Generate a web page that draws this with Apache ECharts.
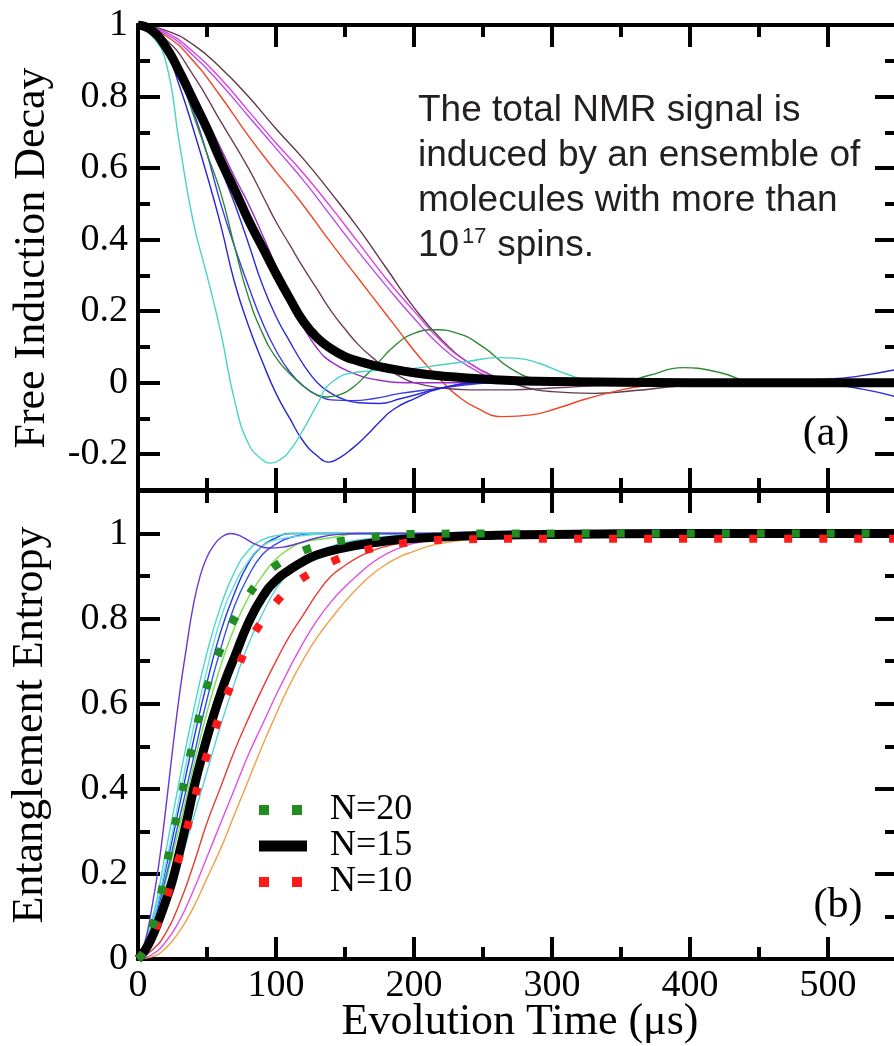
<!DOCTYPE html>
<html>
<head>
<meta charset="utf-8">
<script src="https://cdn.jsdelivr.net/npm/echarts@6/dist/echarts.min.js"></script>
<style>
html,body{margin:0;padding:0;background:#fff;}
#main{width:894px;height:1046px;}
</style>
</head>
<body>
<div id="main"></div>
<script>
// (a) free induction decay, [time us, signal]
var fidTurquoise = [[0,1],[10,0.97],[20,0.9],[30,0.67],[40,0.45],[50,0.3],[60,0.14],[70,-0.05],[80,-0.17],[90,-0.215],[96,-0.225],[103,-0.215],[110,-0.19],[120,-0.13],[130,-0.06],[140,0.0],[160,0.03],[180,0.035],[200,0.04],[220,0.05],[240,0.06],[260,0.07],[275,0.068],[290,0.055],[310,0.025],[330,0.005],[400,0],[550,0]];
var fidBlueDeep = [[0,1],[10,0.98],[20,0.93],[30,0.83],[40,0.71],[50,0.58],[60,0.44],[70,0.28],[80,0.16],[90,0.06],[100,-0.03],[110,-0.1],[120,-0.165],[130,-0.205],[138,-0.222],[146,-0.21],[155,-0.185],[165,-0.15],[175,-0.11],[185,-0.075],[200,-0.045],[220,-0.015],[250,0],[300,0],[400,0],[450,0.005],[500,0.01],[520,0.017],[550,0.037]];
var fidGreen = [[0,1],[10,0.98],[20,0.94],[30,0.86],[40,0.75],[50,0.64],[60,0.53],[70,0.38],[80,0.24],[90,0.14],[100,0.07],[110,0.025],[120,-0.01],[130,-0.035],[137,-0.04],[145,-0.035],[155,-0.015],[165,0.02],[175,0.06],[185,0.1],[200,0.138],[215,0.148],[230,0.14],[250,0.1],[270,0.04],[290,0.008],[320,-0.005],[350,0],[370,0.02],[395,0.042],[420,0.03],[450,0],[550,0]];
var fidBlue2 = [[0,1],[10,0.985],[20,0.945],[30,0.875],[40,0.79],[50,0.7],[60,0.6],[70,0.5],[80,0.39],[90,0.275],[100,0.185],[110,0.115],[120,0.05],[130,0.0],[140,-0.03],[150,-0.048],[160,-0.056],[175,-0.058],[190,-0.045],[200,-0.035],[220,-0.015],[250,0],[300,0],[450,0],[500,-0.005],[525,-0.018],[550,-0.04]];
var fidBlue3 = [[0,1],[10,0.98],[20,0.935],[30,0.86],[40,0.76],[50,0.64],[60,0.5],[70,0.38],[80,0.27],[90,0.17],[100,0.09],[110,0.03],[120,-0.01],[130,-0.035],[140,-0.048],[155,-0.05],[170,-0.045],[190,-0.03],[214,-0.018],[240,-0.005],[260,0],[550,0]];
var fidBlack = [[0,1],[10,0.985],[20,0.94],[30,0.87],[40,0.79],[50,0.71],[60,0.62],[70,0.54],[80,0.455],[90,0.38],[100,0.305],[110,0.235],[120,0.17],[130,0.125],[140,0.095],[150,0.073],[160,0.06],[170,0.049],[180,0.041],[200,0.028],[220,0.019],[250,0.01],[300,0.003],[400,0],[550,0]];
var fidPurple = [[0,1],[10,0.99],[20,0.95],[30,0.89],[40,0.815],[50,0.735],[60,0.655],[70,0.575],[80,0.5],[90,0.415],[100,0.325],[110,0.235],[120,0.155],[130,0.095],[140,0.058],[155,0.028],[170,0.01],[200,0],[250,0],[550,0]];
var fidBrown2 = [[0,1],[20,0.96],[40,0.86],[60,0.73],[80,0.6],[92,0.51],[100,0.45],[110,0.385],[120,0.32],[130,0.26],[140,0.2],[150,0.15],[160,0.105],[170,0.07],[180,0.04],[190,0.017],[200,0],[220,-0.015],[240,-0.02],[270,-0.02],[300,-0.015],[350,-0.005],[400,0],[550,0]];
var fidRed = [[0,1],[20,0.97],[40,0.9],[60,0.8],[80,0.69],[100,0.59],[117,0.51],[140,0.39],[160,0.29],[180,0.19],[190,0.14],[200,0.09],[210,0.045],[220,0.005],[230,-0.032],[245,-0.07],[265,-0.095],[285,-0.09],[305,-0.07],[325,-0.045],[345,-0.025],[365,-0.01],[400,0],[550,0]];
var fidViolet = [[0,1],[20,0.975],[40,0.915],[60,0.835],[80,0.745],[100,0.655],[120,0.565],[140,0.465],[160,0.365],[180,0.27],[200,0.18],[220,0.1],[240,0.045],[260,0.01],[280,0],[550,0]];
var fidMagenta = [[0,1],[20,0.98],[40,0.925],[60,0.85],[80,0.76],[100,0.67],[120,0.585],[140,0.49],[160,0.39],[180,0.29],[200,0.2],[220,0.115],[240,0.055],[260,0.015],[280,0],[300,-0.005],[350,0],[550,0]];
var fidBrown = [[0,1],[20,0.985],[40,0.945],[60,0.88],[80,0.8],[100,0.71],[120,0.625],[140,0.53],[160,0.43],[180,0.32],[200,0.21],[220,0.12],[240,0.055],[260,0.015],[280,-0.012],[300,-0.025],[330,-0.03],[360,-0.022],[390,-0.01],[430,0],[550,0]];

// (b) entanglement entropy, [time us, entropy]
var entIndigo = [[0,0],[5,0.04],[10,0.12],[15,0.22],[20,0.35],[25,0.49],[30,0.62],[35,0.73],[40,0.83],[45,0.9],[50,0.945],[55,0.972],[60,0.99],[67,1.0],[75,0.993],[85,0.975],[95,0.966],[105,0.968],[115,0.976],[130,0.99],[145,0.998],[160,1],[550,1]];
var entTurqA = [[0,0],[10,0.09],[20,0.25],[30,0.42],[40,0.58],[50,0.72],[60,0.83],[70,0.91],[80,0.96],[90,0.985],[100,0.995],[120,1],[550,1]];
var entTurqB = [[0,0],[10,0.08],[20,0.22],[30,0.38],[40,0.54],[50,0.68],[60,0.8],[70,0.88],[80,0.935],[90,0.97],[100,0.985],[120,0.995],[140,1],[550,1]];
var entBlueA = [[0,0],[10,0.08],[20,0.21],[30,0.36],[40,0.51],[50,0.65],[60,0.77],[70,0.86],[80,0.93],[90,0.97],[100,0.99],[110,1],[550,1]];
var entBlueB = [[0,0],[10,0.07],[20,0.19],[30,0.33],[40,0.47],[50,0.61],[60,0.73],[70,0.83],[80,0.9],[90,0.95],[100,0.975],[110,0.99],[130,1],[550,1]];
var entLime = [[0,0],[10,0.06],[20,0.18],[30,0.31],[40,0.45],[50,0.58],[60,0.69],[70,0.78],[80,0.85],[90,0.9],[100,0.94],[110,0.965],[120,0.98],[140,0.99],[160,1],[550,1]];
var entCyan = [[0,0],[10,0.04],[20,0.12],[30,0.22],[40,0.33],[50,0.44],[60,0.55],[70,0.65],[80,0.74],[90,0.81],[100,0.87],[110,0.91],[120,0.94],[140,0.97],[160,0.985],[180,0.993],[200,0.997],[550,1]];
var entRed = [[0,0],[10,0.02],[20,0.06],[30,0.13],[40,0.22],[50,0.32],[60,0.405],[70,0.49],[80,0.565],[90,0.635],[100,0.7],[110,0.76],[120,0.81],[130,0.86],[140,0.9],[150,0.925],[160,0.945],[170,0.96],[180,0.97],[200,0.984],[220,0.992],[250,0.997],[300,1],[550,1]];
var entMagenta = [[0,0],[10,0.01],[20,0.04],[30,0.09],[40,0.16],[50,0.24],[60,0.32],[70,0.4],[80,0.48],[90,0.55],[100,0.62],[110,0.685],[120,0.745],[130,0.797],[140,0.84],[150,0.875],[160,0.905],[170,0.932],[180,0.952],[190,0.967],[200,0.977],[220,0.988],[250,0.995],[300,0.999],[550,1]];
var entOrange = [[0,0],[10,0.005],[20,0.025],[30,0.065],[40,0.12],[50,0.19],[60,0.26],[70,0.34],[80,0.42],[90,0.5],[100,0.575],[110,0.645],[120,0.705],[130,0.757],[140,0.8],[150,0.84],[160,0.875],[170,0.905],[180,0.928],[190,0.946],[200,0.958],[215,0.974],[240,0.986],[270,0.994],[300,0.998],[550,1]];
var entN20 = [[0,0],[5,0.02],[10,0.07],[15,0.13],[20,0.21],[25,0.29],[30,0.36],[35,0.44],[40,0.51],[45,0.58],[50,0.64],[60,0.73],[70,0.8],[80,0.855],[90,0.895],[100,0.925],[120,0.96],[140,0.978],[160,0.988],[180,0.995],[200,0.999],[250,1],[550,1]];
var entN15 = [[0,0],[5,0.02],[10,0.05],[15,0.09],[20,0.135],[25,0.185],[30,0.25],[35,0.32],[40,0.395],[45,0.46],[50,0.52],[55,0.575],[60,0.625],[65,0.67],[70,0.71],[80,0.79],[90,0.85],[100,0.89],[110,0.915],[120,0.935],[130,0.95],[150,0.967],[170,0.978],[190,0.986],[220,0.992],[260,0.996],[300,0.998],[400,1],[550,1]];
var entN10 = [[0,0],[5,0.02],[10,0.05],[15,0.09],[20,0.135],[25,0.19],[30,0.24],[35,0.3],[40,0.365],[45,0.425],[50,0.48],[60,0.58],[70,0.665],[80,0.74],[90,0.795],[100,0.838],[110,0.872],[125,0.907],[145,0.94],[170,0.965],[200,0.98],[230,0.986],[300,0.988],[550,0.988]];

// ticks
var xMajor = [0, 100, 200, 300, 400, 500];
var xMinor = [50, 150, 250, 350, 450];
var fidMajor = [-0.2, 0, 0.2, 0.4, 0.6, 0.8, 1];
var fidMinor = [-0.1, 0.1, 0.3, 0.5, 0.7, 0.9];
var entMajor = [0, 0.2, 0.4, 0.6, 0.8, 1];
var entMinor = [0.1, 0.3, 0.5, 0.7, 0.9];

var SERIF = 'Liberation Serif';
function fmt(v) { return String(Math.round(v * 10) / 10); }

function axis(grid, pos, min, max, vals, len, labels) {
  return {
    type: 'value', gridIndex: grid, position: pos, min: min, max: max,
    splitLine: {show: false},
    axisLine: {show: true, onZero: false, lineStyle: {color: '#000', width: 4}},
    axisTick: {show: true, inside: true, length: len, customValues: vals, lineStyle: {color: '#000', width: 4}},
    axisLabel: labels ? {show: true, customValues: vals, margin: (pos === 'bottom' ? 8 : 10), color: '#000',
      fontFamily: SERIF, fontSize: 38, formatter: fmt} : {show: false}
  };
}

var xAxes = [
  axis(0, 'bottom', 0, 550, xMajor, 22, false),
  axis(0, 'bottom', 0, 550, xMinor, 12, false),
  axis(0, 'top', 0, 550, xMajor, 22, false),
  axis(0, 'top', 0, 550, xMinor, 12, false),
  axis(1, 'bottom', 0, 550, xMajor, 22, true),
  axis(1, 'bottom', 0, 550, xMinor, 12, false),
  axis(1, 'top', 0, 550, xMajor, 22, false),
  axis(1, 'top', 0, 550, xMinor, 12, false)
];
var yAxes = [
  axis(0, 'left', -0.3, 1, fidMajor, 22, true),
  axis(0, 'left', -0.3, 1, fidMinor, 12, false),
  axis(0, 'right', -0.3, 1, fidMajor, 22, false),
  axis(0, 'right', -0.3, 1, fidMinor, 12, false),
  axis(1, 'left', 0, 1.1, entMajor, 22, true),
  axis(1, 'left', 0, 1.1, entMinor, 12, false),
  axis(1, 'right', 0, 1.1, entMajor, 22, false),
  axis(1, 'right', 0, 1.1, entMinor, 12, false)
];

function thin(grid, data, color) {
  return {type: 'line', data: data, xAxisIndex: grid * 4, yAxisIndex: grid * 4,
    symbol: 'none', smooth: 0.5, silent: true, z: 2,
    lineStyle: {color: color, width: 1.4}};
}

var series = [
  thin(0, fidBrown, '#5e3a4c'),
  thin(0, fidMagenta, '#e040e0'),
  thin(0, fidViolet, '#b84cf0'),
  thin(0, fidRed, '#f04424'),
  thin(0, fidBrown2, '#6e3c5c'),
  thin(0, fidPurple, '#9a30c8'),
  thin(0, fidBlue3, '#3a3ae8'),
  thin(0, fidBlue2, '#2c2cd8'),
  thin(0, fidGreen, '#2e8a36'),
  thin(0, fidBlueDeep, '#2626d0'),
  thin(0, fidTurquoise, '#48d4c4'),
  {type: 'line', data: fidBlack, xAxisIndex: 0, yAxisIndex: 0, symbol: 'none', smooth: 0.5, silent: true, z: 3,
    lineStyle: {color: '#000', width: 9}},

  thin(1, entOrange, '#f0a048'),
  thin(1, entMagenta, '#e050e8'),
  thin(1, entRed, '#e83c30'),
  thin(1, entCyan, '#58d0e4'),
  thin(1, entLime, '#78e048'),
  thin(1, entBlueB, '#3050f0'),
  thin(1, entBlueA, '#2038e0'),
  thin(1, entTurqB, '#60e0e0'),
  thin(1, entTurqA, '#48d8cc'),
  thin(1, entIndigo, '#6a36d8'),
  {name: 'N=15', type: 'line', data: entN15, xAxisIndex: 4, yAxisIndex: 4, symbol: 'none', smooth: 0.5, silent: true, z: 3,
    lineStyle: {color: '#000', width: 9}, itemStyle: {color: '#000'}},
  {name: 'N=10', type: 'line', data: entN10, xAxisIndex: 4, yAxisIndex: 4, symbol: 'none', smooth: 0.5, silent: true, z: 4,
    lineStyle: {color: '#ff1a1a', width: 8, type: [8, 27], cap: 'butt'}, itemStyle: {color: '#ff1a1a'}},
  {name: 'N=20', type: 'line', data: entN20, xAxisIndex: 4, yAxisIndex: 4, symbol: 'none', smooth: 0.5, silent: true, z: 5,
    lineStyle: {color: '#228b22', width: 8, type: [8, 27], cap: 'butt'}, itemStyle: {color: '#228b22'}}
];

var dots = 'path://M0,0h10v10h-10zM33,0h10v10h-10z';
function legendRow(name, icon, color, top, w, h, gap) {
  return {
    data: [{name: name, icon: icon, itemStyle: {color: color, borderWidth: 0}}],
    left: 259, top: top, padding: 0, itemWidth: w, itemHeight: h,
    selectedMode: false,
    textStyle: {fontFamily: SERIF, fontSize: 36, color: '#000', padding: [0, 0, 0, gap]}
  };
}

var myChart = echarts.init(document.getElementById('main'));
var option = {
  animation: false,
  backgroundColor: '#fff',
  grid: [
    {left: 138, top: 25, width: 759, height: 465, outerBoundsMode: 'none'},
    {left: 138, top: 491, width: 759, height: 468, outerBoundsMode: 'none'}
  ],
  xAxis: xAxes,
  yAxis: yAxes,
  legend: [
    legendRow('N=20', dots, '#228b22', 792, 43, 10, 23),
    legendRow('N=15', 'rect', '#000', 828, 48, 11, 18),
    legendRow('N=10', dots, '#ff1a1a', 864, 43, 10, 23)
  ],
  graphic: [
    {type: 'text', x: 32, y: 258, rotation: Math.PI / 2,
      style: {text: 'Free Induction Decay', font: '44px "Liberation Serif"', fill: '#000', align: 'center', verticalAlign: 'middle'}},
    {type: 'text', x: 30, y: 725, rotation: Math.PI / 2,
      style: {text: 'Entanglement Entropy', font: '44px "Liberation Serif"', fill: '#000', align: 'center', verticalAlign: 'middle'}},
    {type: 'text', x: 520, y: 1022,
      style: {text: 'Evolution Time (\u03bcs)', font: '44px "Liberation Serif"', fill: '#000', align: 'center', verticalAlign: 'middle'}},
    {type: 'text', x: 826, y: 434,
      style: {text: '(a)', font: '42px "Liberation Serif"', fill: '#000', align: 'center', verticalAlign: 'middle'}},
    {type: 'text', x: 838, y: 906,
      style: {text: '(b)', font: '42px "Liberation Serif"', fill: '#000', align: 'center', verticalAlign: 'middle'}},
    {type: 'text', x: 418, y: 111,
      style: {text: 'The total NMR signal is', font: '37px "Liberation Sans"', fill: '#231f20', align: 'left', verticalAlign: 'middle'}},
    {type: 'text', x: 418, y: 156,
      style: {text: 'induced by an ensemble of', font: '37px "Liberation Sans"', fill: '#231f20', align: 'left', verticalAlign: 'middle'}},
    {type: 'text', x: 418, y: 201,
      style: {text: 'molecules with more than', font: '37px "Liberation Sans"', fill: '#231f20', align: 'left', verticalAlign: 'middle'}},
    {type: 'text', x: 418, y: 246,
      style: {text: '10', font: '37px "Liberation Sans"', fill: '#231f20', align: 'left', verticalAlign: 'middle'}},
    {type: 'text', x: 462, y: 237,
      style: {text: '17', font: '22px "Liberation Sans"', fill: '#231f20', align: 'left', verticalAlign: 'middle'}},
    {type: 'text', x: 487, y: 246,
      style: {text: ' spins.', font: '37px "Liberation Sans"', fill: '#231f20', align: 'left', verticalAlign: 'middle'}}
  ],
  series: series
};
myChart.setOption(option);
window.onresize = myChart.resize;
</script>
</body>
</html>
